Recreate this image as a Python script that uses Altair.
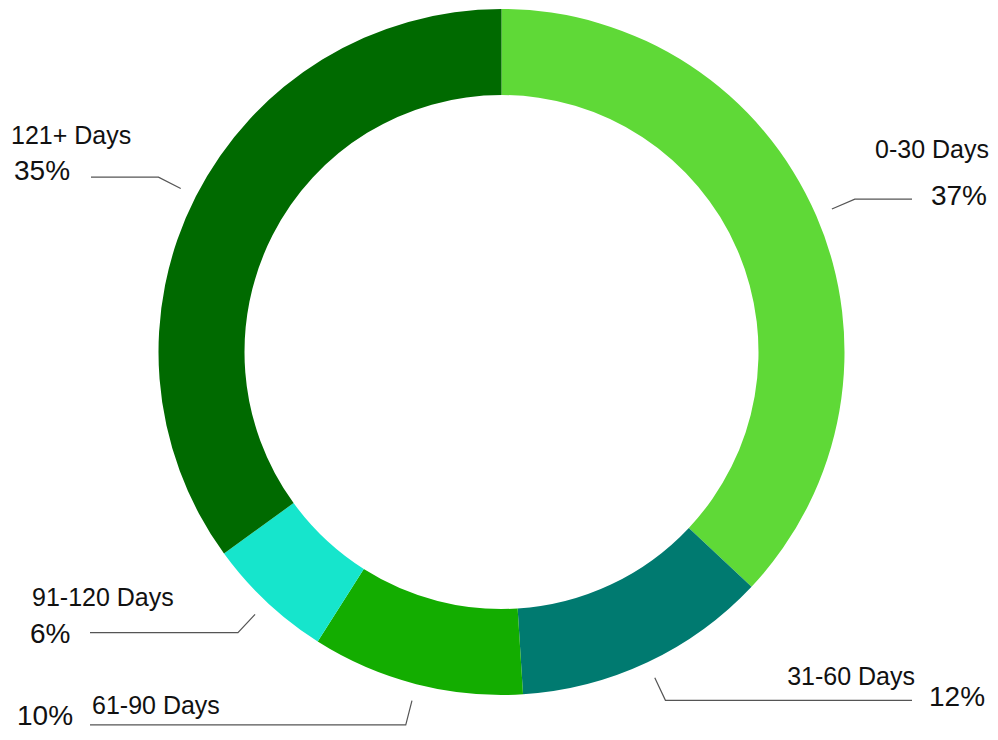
import math
import altair as alt
import pandas as pd

# ---- data ----
categories = ["0-30 Days", "31-60 Days", "61-90 Days", "91-120 Days", "121+ Days"]
values = [37, 12, 10, 6, 35]
colors = ["#5fd937", "#007a70", "#13ad00", "#16e5cc", "#006a00"]

# ---- layout (plot-area pixels) ----
W, H = 982, 724
CX, CY = 493.5, 344
R_START, R_ELBOW = 360, 385
leader_end_x = [904, 904, 82, 82, 83]
label_pos = [(981, 150, "right"), (907, 677, "right"), (84, 706, "left"), (24, 598, "left"), (3, 136, "left")]
pct_pos = [(979, 197, "right"), (921, 698, "left"), (9, 717, "left"), (22, 635, "left"), (6, 172, "left")]
FONT = "Liberation Sans"

arc_df = pd.DataFrame({"cat": categories, "value": values, "idx": list(range(len(values)))})

# leader lines, starting at each slice's mid-angle
total = sum(values)
rows = []
cum = 0
for i, (c, v) in enumerate(zip(categories, values)):
    mid = (cum + v / 2) / total * 2 * math.pi
    cum += v
    sx, sy = CX + R_START * math.sin(mid), CY - R_START * math.cos(mid)
    ex, ey = CX + R_ELBOW * math.sin(mid), CY - R_ELBOW * math.cos(mid)
    rows += [
        {"cat": c, "o": 0, "x": sx, "y": sy},
        {"cat": c, "o": 1, "x": ex, "y": ey},
        {"cat": c, "o": 2, "x": leader_end_x[i], "y": ey},
    ]
line_df = pd.DataFrame(rows)

text_rows = []
for i, (c, v) in enumerate(zip(categories, values)):
    lx, ly, la = label_pos[i]
    px, py, pa = pct_pos[i]
    text_rows.append({"t": c, "x": lx, "y": ly, "align": la, "kind": "label"})
    text_rows.append({"t": f"{v}%", "x": px, "y": py, "align": pa, "kind": "pct"})
text_df = pd.DataFrame(text_rows)

arcs = alt.Chart(arc_df).mark_arc(innerRadius=257, outerRadius=343).encode(
    theta=alt.Theta("value:Q", stack=True),
    color=alt.Color("cat:N", scale=alt.Scale(domain=categories, range=colors), legend=None),
    order=alt.Order("idx:Q"),
    x=alt.value(CX),
    y=alt.value(CY),
)

lines = alt.Chart(line_df).mark_line(color="#555555", strokeWidth=1.2).encode(
    x=alt.X("x:Q", scale=None),
    y=alt.Y("y:Q", scale=None),
    detail="cat:N",
    order="o:Q",
)

text_layers = []
for kind, size in [("label", 25), ("pct", 28)]:
    for al in ["left", "right"]:
        text_layers.append(
            alt.Chart(text_df)
            .transform_filter((alt.datum.kind == kind) & (alt.datum.align == al))
            .mark_text(align=al, baseline="alphabetic", fontSize=size, font=FONT, color="#111111")
            .encode(x=alt.X("x:Q", scale=None), y=alt.Y("y:Q", scale=None), text="t:N")
        )

chart = (
    alt.layer(arcs, lines, *text_layers)
    .properties(
        width=W,
        height=H,
        autosize="none",
        padding=0,
    )
    .configure_view(strokeOpacity=0, strokeWidth=0)
)

chart.save("out.html", embed_options={"renderer": "svg", "actions": False})
